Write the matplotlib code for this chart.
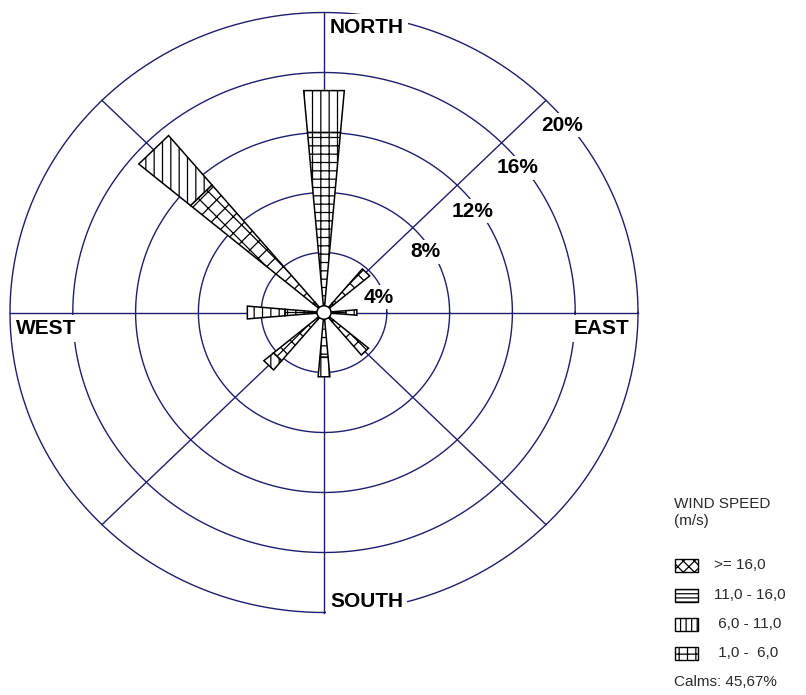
import numpy as np
import matplotlib.pyplot as plt
from matplotlib.patches import Polygon, Rectangle, Ellipse

plt.rcParams['font.family'] = ['Liberation Sans', 'DejaVu Sans']
plt.rcParams['hatch.linewidth'] = 0.9
plt.rcParams['hatch.color'] = 'black'

# wind directions (compass degrees, clockwise from north)
directions = ['N', 'NE', 'E', 'SE', 'S', 'SW', 'W', 'NW']
dir_angles = [0, 45, 90, 135, 180, 225, 270, 315]

# frequency (%) of each speed class per direction
freq_16_up = [0.0, 3.0, 0.0, 2.9, 0.0, 3.6, 0.0, 10.2]
freq_11_16 = [0.0, 0.0, 0.0, 0.0, 0.0, 0.0, 0.0, 0.0]
freq_6_11 = [2.8, 0.0, 0.7, 0.0, 1.3, 0.8, 2.4, 4.3]
freq_1_6 = [12.05, 0.8, 1.4, 0.8, 3.0, 0.6, 2.5, 0.9]
calms = 45.67

speed_labels = ['>= 16,0', '11,0 - 16,0', ' 6,0 - 11,0', ' 1,0 -  6,0']
speed_hatches = ['xx', '--', '||', '++']
legend_hatches = ['xxx', '----', '|||', '++']
speed_freqs = [freq_16_up, freq_11_16, freq_6_11, freq_1_6]
stack_order = [3, 0, 1, 2]  # drawing order from the centre outwards

ring_values = [4, 8, 12, 16, 20]
ring_label_angles = [16, 32, 35.5, 38, 39.5]

navy = '#1e1e6e'
W, H = 806, 695
sx, sy = 15.7, 15.0          # pixels per percent
cx, cy = 324, 312.5          # centre in pixels

fig = plt.figure(figsize=(W / 100, H / 100), dpi=100)
ax = fig.add_axes([0, 0, 1, 1])
ax.set_xlim(-cx / sx, (W - cx) / sx)
ax.set_ylim(-(H - cy) / sy, cy / sy)
ax.axis('off')

# rings and spokes
t = np.linspace(0, 2 * np.pi, 600)
rmax = ring_values[-1]
for r in ring_values:
    ax.plot(r * np.cos(t), r * np.sin(t), color=navy, lw=1.0, zorder=1)
for a in dir_angles:
    ra = np.radians(a)
    ax.plot([0, rmax * np.sin(ra)], [0, rmax * np.cos(ra)], color=navy, lw=1.0, zorder=1)


def sector(theta, r0, r1, half=5.0):
    a0, a1 = np.radians(theta - half), np.radians(theta + half)
    return [(r0 * np.sin(a0), r0 * np.cos(a0)), (r1 * np.sin(a0), r1 * np.cos(a0)),
            (r1 * np.sin(a1), r1 * np.cos(a1)), (r0 * np.sin(a1), r0 * np.cos(a1))]


for i, ang in enumerate(dir_angles):
    r = 0.0
    for k in stack_order:
        v = speed_freqs[k][i]
        if v <= 0:
            continue
        ax.add_patch(Polygon(sector(ang, r, r + v), closed=True, facecolor='white',
                             edgecolor='black', hatch=speed_hatches[k], lw=1.1, zorder=3))
        r += v

ax.add_patch(Ellipse((0, 0), 0.9, 0.9, facecolor='white', edgecolor='black', lw=1.1, zorder=4))

# ring labels
for r, a in zip(ring_values, ring_label_angles):
    rr = r - 0.35
    ax.text(rr * np.cos(np.radians(a)), rr * np.sin(np.radians(a)), f'{r}%',
            fontsize=15, fontweight='bold', ha='center', va='center', zorder=5,
            bbox=dict(boxstyle='square,pad=0.12', fc='white', ec='none'))

# compass labels
lab = dict(fontsize=15, fontweight='bold', va='center', zorder=5,
           bbox=dict(boxstyle='square,pad=0.2', fc='white', ec='none'))
ax.text(0.38, 19.0, 'NORTH', ha='left', **lab)
ax.text(0.38, -19.27, 'SOUTH', ha='left', **lab)
ax.text(-19.62, -1.07, 'WEST', ha='left', **lab)
ax.text(19.45, -1.07, 'EAST', ha='right', **lab)

# legend
def fx(x):
    return x / W


def fy(y):
    return 1 - y / H


txt = dict(fontsize=11, color='#2a2a2a', va='center', ha='left')
fig.text(fx(674), fy(503.5), 'WIND SPEED', **txt)
fig.text(fx(674), fy(521), '(m/s)', **txt)
row_y = [565, 595, 624, 653]
for yy, lbl, h in zip(row_y, speed_labels, legend_hatches):
    fig.add_artist(Rectangle((fx(675), fy(yy + 6.5)), 23 / W, 13 / H, transform=fig.transFigure,
                             facecolor='white', edgecolor='black', hatch=h, lw=1.0))
    fig.text(fx(714), fy(yy), lbl, **txt)
fig.text(fx(674), fy(682), f'Calms: {calms:.2f}%'.replace('.', ','), **txt)

fig.savefig('out.png', dpi=100, facecolor='white')
